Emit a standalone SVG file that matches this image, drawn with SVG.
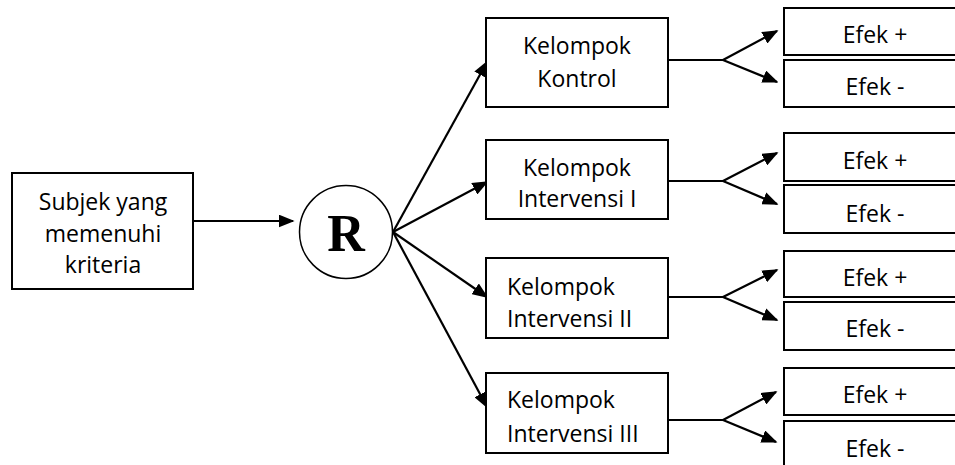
<svg xmlns="http://www.w3.org/2000/svg" width="955" height="465" viewBox="0 0 955 465">
<style>
.box{fill:#fff;stroke:#000;stroke-width:2}
.t{font-family:"Open Sans","Liberation Sans",sans-serif;font-size:23px;fill:#000}
.c{text-anchor:middle}
.ln{stroke:#000;stroke-width:2.2;fill:none}
</style>
<defs>
<marker id="ah" viewBox="0 0 10 10" refX="9" refY="5" markerWidth="16" markerHeight="13" markerUnits="userSpaceOnUse" orient="auto" preserveAspectRatio="none">
<path d="M0,0 L10,5 L0,10 z" fill="#000"/>
</marker>
</defs>
<rect width="955" height="465" fill="#fff"/>
<g id="connectors">
<line class="ln" x1="193" y1="221" x2="293" y2="221" marker-end="url(#ah)"/>
<line class="ln" x1="393" y1="232" x2="487" y2="62" marker-end="url(#ah)"/>
<line class="ln" x1="393" y1="232" x2="487" y2="182" marker-end="url(#ah)"/>
<line class="ln" x1="393" y1="232" x2="487" y2="297" marker-end="url(#ah)"/>
<line class="ln" x1="393" y1="232" x2="487" y2="407" marker-end="url(#ah)"/>
<polyline class="ln" points="668,60 723,60"/>
<line class="ln" x1="723" y1="60" x2="777" y2="31" marker-end="url(#ah)"/>
<line class="ln" x1="723" y1="60" x2="777" y2="82" marker-end="url(#ah)"/>
<polyline class="ln" points="668,181 723,181"/>
<line class="ln" x1="723" y1="181" x2="777" y2="153" marker-end="url(#ah)"/>
<line class="ln" x1="723" y1="181" x2="777" y2="204" marker-end="url(#ah)"/>
<polyline class="ln" points="668,297 723,297"/>
<line class="ln" x1="723" y1="297" x2="777" y2="270" marker-end="url(#ah)"/>
<line class="ln" x1="723" y1="297" x2="777" y2="320" marker-end="url(#ah)"/>
<polyline class="ln" points="668,420 723,420"/>
<line class="ln" x1="723" y1="420" x2="776" y2="392" marker-end="url(#ah)"/>
<line class="ln" x1="723" y1="420" x2="776" y2="442" marker-end="url(#ah)"/>
</g>
<g id="subjek">
<rect class="box" x="12" y="173" width="181" height="116"/>
<text class="t c" x="103" y="210">Subjek yang</text>
<text class="t c" x="103" y="242">memenuhi</text>
<text class="t c" x="103" y="273">kriteria</text>
</g>
<g id="r">
<circle cx="346" cy="232" r="46.5" fill="#fff" stroke="#000" stroke-width="1.5"/>
<text x="346" y="251" text-anchor="middle" font-family="'Liberation Serif','Times New Roman',serif" font-weight="bold" font-size="52">R</text>
</g>
<g id="kontrol">
<rect class="box" x="486" y="18" width="182" height="89"/>
<text class="t c" x="577" y="54">Kelompok</text>
<text class="t c" x="577" y="87">Kontrol</text>
</g>
<g id="intervensi1">
<rect class="box" x="486" y="140" width="182" height="79"/>
<text class="t c" x="577" y="176">Kelompok</text>
<text class="t c" x="577" y="207">Intervensi I</text>
</g>
<g id="intervensi2">
<rect class="box" x="486" y="258" width="182" height="80"/>
<text class="t" x="507" y="295">Kelompok</text>
<text class="t" x="507" y="327">Intervensi II</text>
</g>
<g id="intervensi3">
<rect class="box" x="486" y="373" width="182" height="80"/>
<text class="t" x="507" y="408">Kelompok</text>
<text class="t" x="507" y="442">Intervensi III</text>
</g>
<g id="efek1p"><rect class="box" x="784" y="8" width="180" height="47"/><text class="t c" x="875" y="43">Efek +</text></g>
<g id="efek1m"><rect class="box" x="784" y="60" width="180" height="47"/><text class="t c" x="875" y="95">Efek -</text></g>
<g id="efek2p"><rect class="box" x="784" y="133" width="180" height="48"/><text class="t c" x="875" y="169">Efek +</text></g>
<g id="efek2m"><rect class="box" x="784" y="185" width="180" height="48"/><text class="t c" x="875" y="222">Efek -</text></g>
<g id="efek3p"><rect class="box" x="784" y="251" width="180" height="46"/><text class="t c" x="875" y="286">Efek +</text></g>
<g id="efek3m"><rect class="box" x="784" y="302" width="180" height="48"/><text class="t c" x="875" y="337">Efek -</text></g>
<g id="efek4p"><rect class="box" x="784" y="368" width="180" height="47"/><text class="t c" x="875" y="403">Efek +</text></g>
<g id="efek4m"><rect class="box" x="784" y="421" width="180" height="60"/><text class="t c" x="875" y="457">Efek -</text></g>
</svg>
